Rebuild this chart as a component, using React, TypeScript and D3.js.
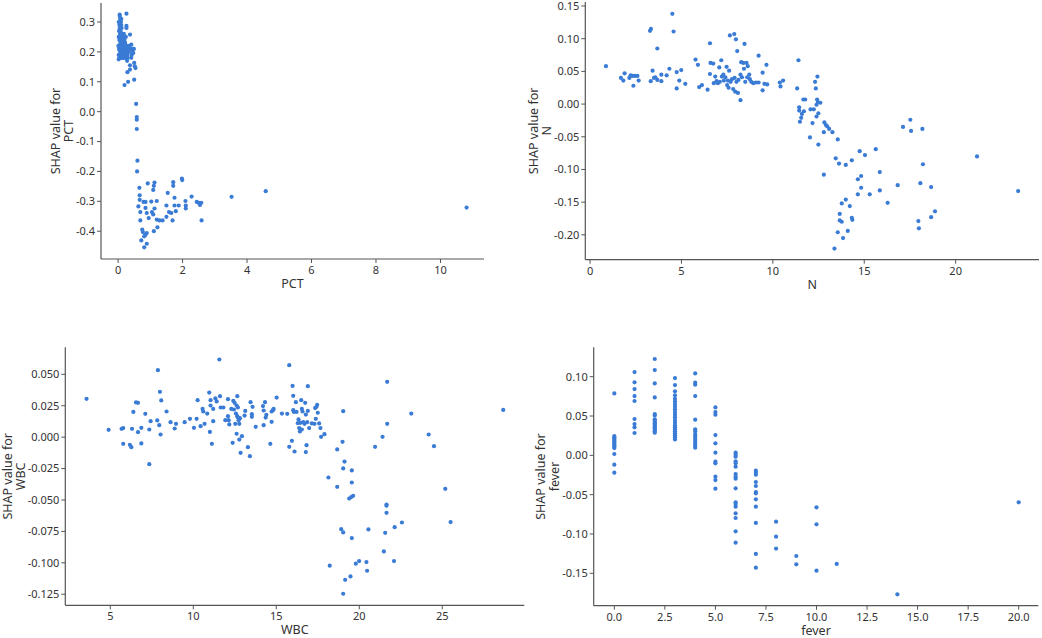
import React from "react";
import * as d3 from "d3";

// ---------- DATA ----------
// Panel 1: PCT
const pctX: number[] = [
  0.02,0.04,0.05,0.07,0.09,0.10,0.03,0.06,0.08,0.11,0.13,0.02,0.04,0.07,0.09,0.12,0.15,0.18,0.20,0.22,
  0.01,0.03,0.05,0.07,0.09,0.11,0.13,0.15,0.17,0.19,0.21,0.23,0.25,0.27,0.29,0.31,0.33,0.02,0.04,0.06,
  0.08,0.10,0.12,0.14,0.16,0.18,0.20,0.22,0.24,0.26,0.28,0.30,0.02,0.05,0.08,0.12,0.16,0.20,0.24,0.28,
  0.35,0.38,0.44,0.46,0.42,0.15,0.18,0.24,0.26,0.10,0.05,
  0.26,0.05,0.07,0.26,0.37,0.41,0.49,0.47,0.41,0.50,0.52,0.54,0.37,0.37,0.29,0.50,0.31,0.20,
  0.56,0.58,0.58,0.58,0.60,0.59,
  0.66,0.67,0.67,0.63,0.69,0.69,0.75,0.77,0.72,0.81,0.89,0.85,0.89,0.81,0.79,0.85,0.85,0.89,0.95,0.92,
  1.03,1.05,1.09,1.11,1.13,1.13,1.09,1.11,1.20,1.20,1.22,1.28,1.38,1.50,1.50,1.54,1.58,1.65,1.69,1.71,
  1.71,1.75,1.75,1.79,1.88,1.98,1.99,2.09,2.10,2.10,2.28,2.44,2.50,2.54,2.58,2.59,3.52,4.58,10.81,
];
const pctShap: number[] = [
  0.30,0.29,0.32,0.31,0.30,0.29,0.27,0.26,0.27,0.28,0.26,0.25,0.24,0.23,0.25,0.24,0.25,0.26,0.24,0.23,
  0.22,0.21,0.22,0.20,0.21,0.22,0.21,0.20,0.22,0.21,0.20,0.21,0.20,0.22,0.19,0.21,0.20,0.19,0.18,0.19,
  0.18,0.19,0.18,0.19,0.18,0.19,0.18,0.19,0.18,0.19,0.17,0.18,0.175,0.205,0.215,0.205,0.215,0.205,0.215,0.20,
  0.22,0.21,0.20,0.21,0.19,0.23,0.24,0.25,0.28,0.31,0.28,
  0.328,0.325,0.313,0.287,0.258,0.224,0.210,0.196,0.180,0.163,0.152,0.146,0.155,0.141,0.132,0.107,0.100,0.089,
  0.026,-0.018,-0.027,-0.058,-0.164,-0.200,
  -0.255,-0.280,-0.295,-0.317,-0.336,-0.364,-0.395,-0.403,-0.431,-0.454,-0.442,-0.412,-0.406,-0.417,-0.302,-0.302,-0.322,-0.339,-0.356,-0.240,
  -0.301,-0.336,-0.262,-0.248,-0.237,-0.324,-0.344,-0.400,-0.299,-0.361,-0.387,-0.364,-0.364,-0.314,-0.352,-0.272,-0.336,-0.339,-0.364,-0.236,
  -0.248,-0.288,-0.314,-0.333,-0.314,-0.224,-0.229,-0.299,-0.314,-0.324,-0.284,-0.302,-0.305,-0.312,-0.305,-0.364,-0.285,-0.266,-0.321,
];

// Panel 2: N
const nX: number[] = [
  0.87,1.69,1.82,1.89,2.15,2.22,2.30,2.37,2.44,2.59,2.66,3.28,3.33,3.32,3.42,3.50,3.57,3.68,3.68,3.90,
  3.90,4.19,4.34,4.50,4.57,4.74,4.74,4.88,4.99,5.21,5.77,5.90,5.97,6.12,6.43,6.56,6.56,6.59,6.74,6.85,
  6.77,6.92,6.99,7.07,7.10,7.18,7.21,7.29,7.32,7.40,7.47,7.50,7.54,7.61,7.58,7.65,7.69,7.76,7.83,7.89,
  7.91,7.94,7.98,8.01,8.05,8.09,8.12,8.23,8.27,8.23,8.31,8.38,8.42,8.45,8.49,8.56,8.60,8.63,8.71,8.74,
  8.82,8.93,9.07,9.22,9.22,9.44,9.44,9.54,9.65,9.69,10.38,10.42,10.56,11.40,11.33,11.44,11.44,11.48,11.55,11.59,
  11.67,11.70,11.77,12.03,12.06,12.17,12.24,12.31,12.35,12.39,12.39,12.42,12.44,12.46,12.49,12.49,12.60,12.79,12.79,12.82,
  12.90,12.97,13.08,13.26,13.44,13.37,13.55,13.55,13.62,13.66,13.66,13.77,13.77,13.84,13.99,13.99,14.10,14.21,14.32,14.32,
  14.35,14.65,14.65,14.75,14.83,14.83,15.04,15.30,15.63,15.85,15.85,16.28,16.83,17.12,17.52,17.56,17.96,17.99,18.07,18.18,
  18.21,18.66,18.66,18.87,21.17,23.42,
];
const nShap: number[] = [
  0.058,0.040,0.036,0.047,0.040,0.044,0.043,0.028,0.043,0.043,0.036,0.112,0.115,0.035,0.051,0.040,0.041,0.085,0.037,0.045,
  0.035,0.044,0.054,0.138,0.111,0.049,0.024,0.036,0.052,0.031,0.068,0.060,0.026,0.029,0.022,0.093,0.046,0.063,0.062,0.042,
  0.032,0.035,0.032,0.056,0.034,0.067,0.042,0.045,0.036,0.041,0.057,0.029,0.036,0.051,0.025,0.105,0.034,0.038,0.023,0.107,
  0.040,0.019,0.099,0.034,0.081,0.017,0.037,0.045,0.064,0.006,0.041,0.063,0.054,0.092,0.034,0.063,0.041,0.058,0.045,0.038,
  0.034,0.032,0.033,0.074,0.033,0.048,0.021,0.031,0.060,0.030,0.033,0.027,0.036,0.067,0.024,-0.005,-0.010,-0.027,-0.021,-0.015,
  0.007,-0.011,0.007,-0.051,-0.008,-0.029,-0.008,0.034,0.024,-0.019,-0.001,0.007,0.042,0.003,-0.014,-0.062,0.002,-0.043,-0.108,-0.028,
  -0.032,-0.034,-0.038,-0.043,-0.083,-0.221,-0.054,-0.196,-0.091,-0.168,-0.178,-0.180,-0.152,-0.205,-0.093,-0.146,-0.194,-0.156,-0.086,-0.174,
  -0.177,-0.115,-0.138,-0.072,-0.110,-0.128,-0.078,-0.138,-0.069,-0.104,-0.132,-0.151,-0.124,-0.035,-0.024,-0.041,-0.179,-0.190,-0.121,-0.038,
  -0.092,-0.127,-0.173,-0.164,-0.080,-0.133,
];

// Panel 3: WBC
const wbcX: number[] = [
  3.57,4.90,5.68,5.78,5.78,6.18,6.27,6.31,6.39,6.55,6.67,6.67,6.87,6.87,7.11,7.35,7.35,7.43,7.83,7.87,
  7.95,7.99,8.07,8.03,8.39,8.63,8.88,8.96,9.48,9.80,10.04,10.20,10.26,10.44,10.56,10.60,10.68,10.84,10.96,11.00,
  11.04,11.04,11.12,11.20,11.20,11.33,11.41,11.57,11.61,11.65,11.81,11.93,12.09,12.09,12.13,12.17,12.29,12.37,12.41,12.45,
  12.49,12.53,12.57,12.61,12.61,12.65,12.65,12.69,12.69,12.73,12.77,12.77,12.81,12.85,12.93,13.09,13.13,13.29,13.41,13.45,
  13.53,13.53,13.57,13.76,14.20,14.24,14.24,14.32,14.36,14.40,14.64,14.72,14.72,14.80,14.84,15.02,15.34,15.66,15.78,15.78,
  15.94,15.98,16.02,16.02,16.06,16.10,16.18,16.22,16.30,16.34,16.38,16.42,16.46,16.50,16.54,16.54,16.58,16.62,16.70,16.74,
  16.78,16.78,16.82,16.86,16.90,16.90,16.98,17.14,17.30,17.34,17.38,17.42,17.46,17.50,17.58,17.66,17.70,17.90,18.14,18.22,
  18.67,18.67,18.91,18.99,19.03,19.03,19.03,19.03,19.11,19.15,19.39,19.47,19.51,19.55,19.55,19.55,19.63,19.79,19.99,20.43,
  20.47,20.55,20.95,21.40,21.48,21.56,21.64,21.64,21.64,21.68,21.68,22.09,22.13,22.57,23.13,24.18,24.50,25.18,25.50,28.67,
];
const wbcShap: number[] = [
  0.0305,0.0058,0.0066,0.0072,-0.0053,-0.0061,-0.0080,0.0066,0.0201,0.0276,0.0273,0.0040,0.0074,-0.0050,0.0186,0.0061,-0.0215,0.0127,0.0133,0.0533,
  0.0095,0.0361,0.0292,0.0021,0.0204,0.0119,0.0069,0.0106,0.0119,0.0146,0.0074,0.0146,0.0294,0.0087,0.0225,0.0204,0.0106,0.0188,0.0355,0.0042,
  0.0294,0.0252,-0.0053,0.0225,0.0127,0.0308,0.0284,0.0618,0.0326,0.0236,0.0236,0.0135,0.0302,0.0167,0.0135,0.0101,0.0225,-0.0045,0.0289,0.0220,
  0.0273,0.0106,0.0188,0.0252,0.0027,0.0326,0.0167,0.0156,0.0236,0.0135,0.0106,-0.0019,0.0151,-0.0125,0.0008,0.0172,0.0209,-0.0080,-0.0151,0.0278,
  0.0183,0.0162,0.0241,0.0082,0.0247,0.0212,0.0095,0.0278,0.0156,0.0178,-0.0053,0.0204,0.0122,0.0215,0.0225,0.0315,0.0188,0.0186,0.0573,-0.0077,
  -0.0029,0.0408,0.0329,0.0215,0.0201,-0.0114,0.0278,0.0201,0.0111,0.0141,0.0072,0.0045,0.0114,0.0294,0.0225,0.0061,0.0204,0.0119,0.0106,0.0273,
  0.0180,-0.0119,-0.0064,0.0119,0.0406,0.0209,0.0072,0.0109,0.0106,0.0231,0.0146,0.0241,0.0257,0.0194,0.0109,0.0072,0.0003,0.0024,-0.0321,-0.1023,
  -0.0098,-0.0395,-0.0732,-0.0037,-0.0758,-0.0249,0.0207,-0.1246,-0.0194,-0.1135,-0.0488,-0.1108,-0.0477,-0.0265,-0.0803,-0.0361,-0.0467,-0.1007,-0.0986,-0.0994,
  -0.1063,-0.0734,-0.0077,0.0003,-0.0909,-0.0761,-0.0536,-0.0546,-0.0602,0.0440,0.0106,-0.0986,-0.0716,-0.0679,0.0188,0.0021,-0.0072,-0.0411,-0.0676,0.0217,
];

// Panel 4: fever
const feverX: number[] = [
  0,0,0,0,0,0,0,0,0,0,0,0,0,0,
  1,1,1,1,1,1,1,1,1,
  2,2,2,2,2,2,2,2,2,2,2,2,2,2,2,2,2,
  3,3,3,3,3,3,3,3,3,3,3,3,3,3,3,3,3,3,3,3,3,3,
  4,4,4,4,4,4,4,4,4,4,4,4,4,4,4,
  5,5,5,5,5,5,5,5,5,5,5,
  6,6,6,6,6,6,6,6,6,6,6,6,6,6,6,6,6,
  7,7,7,7,7,7,7,7,7,7,7,7,
  8,8,8,9,9,10,10,10,11,14,20,
];
const feverShap: number[] = [
  0.0788,0.0246,0.0229,0.0212,0.0195,0.0178,0.0161,0.0144,0.0127,0.0110,0.0093,0.0017,-0.0119,-0.0220,
  0.1059,0.0928,0.0843,0.0754,0.0691,0.0462,0.0398,0.0356,0.0284,
  0.1225,0.1085,0.0915,0.0737,0.0525,0.0508,0.0458,0.0441,0.0424,0.0407,0.0390,0.0373,0.0356,0.0339,0.0322,0.0305,0.0288,
  0.0983,0.0894,0.0814,0.0763,0.0720,0.0686,0.0653,0.0619,0.0585,0.0551,0.0517,0.0483,0.0449,0.0415,0.0381,0.0356,0.0331,0.0305,0.0280,0.0254,0.0229,0.0203,
  0.1042,0.0924,0.0898,0.0754,0.0453,0.0331,0.0305,0.0271,0.0246,0.0220,0.0195,0.0169,0.0144,0.0119,0.0097,
  0.0610,0.0551,0.0517,0.0258,0.0153,0.0034,-0.0081,-0.0102,-0.0271,-0.0314,-0.0424,
  0.0034,0.0008,-0.0017,-0.0076,-0.0102,-0.0144,-0.0237,-0.0271,-0.0297,-0.0419,-0.0597,-0.0619,-0.0653,-0.0737,-0.0797,-0.0966,-0.1110,
  -0.0195,-0.0220,-0.0246,-0.0339,-0.0390,-0.0466,-0.0483,-0.0559,-0.0653,-0.0860,-0.1254,-0.1428,
  -0.0843,-0.1034,-0.1186,-0.1280,-0.1386,-0.0661,-0.0877,-0.1466,-0.1381,-0.1767,-0.0597,
];

const pctXTicks = [0, 2, 4, 6, 8, 10];
const pctYTicks = [-0.4, -0.3, -0.2, -0.1, 0.0, 0.1, 0.2, 0.3];
const nXTicks = [0, 5, 10, 15, 20];
const nYTicks = [-0.2, -0.15, -0.1, -0.05, 0, 0.05, 0.1, 0.15];
const wbcXTicks = [5, 10, 15, 20, 25];
const wbcYTicks = [-0.125, -0.1, -0.075, -0.05, -0.025, 0, 0.025, 0.05];
const feverXTicks = [0, 2.5, 5, 7.5, 10, 12.5, 15, 17.5, 20];
const feverYTicks = [-0.15, -0.1, -0.05, 0, 0.05, 0.1];

// ---------- LAYOUT ----------
const W = 1042;
const H = 638;
const DOT = "#3a7bd5";
const AXIS = "#555555";
const TEXT = "#333333";
const FONT = "'Noto Sans', 'DejaVu Sans', sans-serif";

type Panel = {
  name: string;
  xs: number[];
  ys: number[];
  frame: [number, number, number, number]; // left, top, right, bottom
  xDomain: [number, number];
  yDomain: [number, number];
  xTicks: number[];
  yTicks: number[];
  xFmt: string;
  yFmt: string;
  yLabelOffset: number;
};

const panels: Panel[] = [
  { name: "PCT", xs: pctX, ys: pctShap, frame: [101, 3, 484, 259], xDomain: [-0.53, 11.35], yDomain: [-0.493, 0.3636], xTicks: pctXTicks, yTicks: pctYTicks, xFmt: "d", yFmt: ".1f", yLabelOffset: 46 },
  { name: "N", xs: nX, ys: nShap, frame: [585.3, 2, 1039, 259.7], xDomain: [-0.26, 24.56], yDomain: [-0.238, 0.1561], xTicks: nXTicks, yTicks: nYTicks, xFmt: "d", yFmt: ".2f", yLabelOffset: 52 },
  { name: "WBC", xs: wbcX, ys: wbcShap, frame: [65.3, 347.3, 524.3, 605.3], xDomain: [2.29, 29.94], yDomain: [-0.1338, 0.0715], xTicks: wbcXTicks, yTicks: wbcYTicks, xFmt: "d", yFmt: ".3f", yLabelOffset: 58 },
  { name: "fever", xs: feverX, ys: feverShap, frame: [593.7, 347.3, 1038.3, 605.7], xDomain: [-1.02, 20.97], yDomain: [-0.1912, 0.1374], xTicks: feverXTicks, yTicks: feverYTicks, xFmt: ".1f", yFmt: ".2f", yLabelOffset: 53 },
];

function fmt(spec: string, v: number): string {
  return d3.format(spec)(v).replace("\u2212", "-");
}

function PanelView({ p }: { p: Panel }) {
  const [l, t, r, b] = p.frame;
  const x = d3.scaleLinear().domain(p.xDomain).range([l, r]);
  const y = d3.scaleLinear().domain(p.yDomain).range([b, t]);
  const cy = (t + b) / 2;
  const lx1 = l - p.yLabelOffset;
  const lx2 = lx1 + 13.5;
  return (
    <g>
      {p.xs.map((v, i) => (
        <circle key={i} cx={x(v)} cy={y(p.ys[i])} r={2.1} fill={DOT} />
      ))}
      <line x1={l} x2={l} y1={t} y2={b} stroke={AXIS} strokeWidth={1.2} />
      <line x1={l} x2={r} y1={b} y2={b} stroke={AXIS} strokeWidth={1.2} />
      {p.xTicks.map((v) => (
        <g key={"x" + v}>
          <line x1={x(v)} x2={x(v)} y1={b} y2={b + 4} stroke={AXIS} strokeWidth={1} />
          <text x={x(v)} y={b + 15} textAnchor="middle" fontSize={11} fill={TEXT} fontFamily={FONT}>
            {fmt(p.xFmt, v)}
          </text>
        </g>
      ))}
      {p.yTicks.map((v) => (
        <g key={"y" + v}>
          <line x1={l - 4} x2={l} y1={y(v)} y2={y(v)} stroke={AXIS} strokeWidth={1} />
          <text x={l - 6} y={y(v)} dy="0.35em" textAnchor="end" fontSize={11} fill={TEXT} fontFamily={FONT}>
            {fmt(p.yFmt, v)}
          </text>
        </g>
      ))}
      <text x={(l + r) / 2} y={b + 29} textAnchor="middle" fontSize={12.5} fill={TEXT} fontFamily={FONT}>
        {p.name}
      </text>
      <text transform={`translate(${lx1},${cy}) rotate(-90)`} textAnchor="middle" dominantBaseline="central" fontSize={12.5} fill={TEXT} fontFamily={FONT}>
        SHAP value for
      </text>
      <text transform={`translate(${lx2},${cy}) rotate(-90)`} textAnchor="middle" dominantBaseline="central" fontSize={12.5} fill={TEXT} fontFamily={FONT}>
        {p.name}
      </text>
    </g>
  );
}

export default function App() {
  return (
    <svg
      width={W}
      height={H}
      viewBox={`0 0 ${W} ${H}`}
      style={{ position: "absolute", left: 0, top: 0, background: "#ffffff" }}
    >
      <rect x={0} y={0} width={W} height={H} fill="#ffffff" />
      {panels.map((p) => (
        <PanelView key={p.name} p={p} />
      ))}
    </svg>
  );
}
